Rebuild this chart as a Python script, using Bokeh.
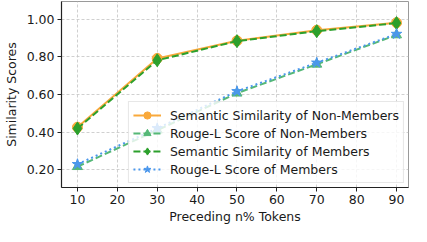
from bokeh.plotting import figure
from bokeh.models import Range1d, FixedTicker, NumeralTickFormatter, Legend, LegendItem
from bokeh.embed import file_html
from bokeh.resources import INLINE

tokens = [10, 30, 50, 70, 90]
sem_non = [0.426, 0.792, 0.886, 0.942, 0.982]
rouge_non = [0.216, 0.41, 0.607, 0.761, 0.917]
sem_mem = [0.419, 0.782, 0.884, 0.937, 0.980]
rouge_mem = [0.229, 0.42, 0.617, 0.769, 0.922]
series_names = [
    "Semantic Similarity of Non-Members",
    "Rouge-L Score of Non-Members",
    "Semantic Similarity of Members",
    "Rouge-L Score of Members",
]
x_ticks = [10, 20, 30, 40, 50, 60, 70, 80, 90]
y_ticks = [0.2, 0.4, 0.6, 0.8, 1.0]
x_label = "Preceding n% Tokens"
y_label = "Similarity Scores"

FONT = "DejaVu Sans"
FS = "12.5px"

p = figure(width=411, height=226, output_backend="svg", toolbar_location=None,
           x_range=Range1d(6, 93), y_range=Range1d(0.105, 1.095),
           min_border_left=54, min_border_right=3, min_border_top=1, min_border_bottom=38)
p.background_fill_color = "white"
p.border_fill_color = "white"
p.outline_line_color = "#9a9a9a"
p.outline_line_width = 1

for ax in (p.xaxis[0], p.yaxis[0]):
    ax.axis_line_color = "#222222"
    ax.axis_line_width = 1.2
    ax.major_tick_line_color = "#222222"
    ax.major_tick_out = 4
    ax.major_tick_in = 0
    ax.minor_tick_out = 0
    ax.minor_tick_in = 0
    ax.major_label_text_font = FONT
    ax.major_label_text_font_size = FS
    ax.major_label_text_color = "#1a1a1a"
    ax.major_label_standoff = 3
    ax.axis_label_text_font = FONT
    ax.axis_label_text_font_size = FS
    ax.axis_label_text_font_style = "normal"
    ax.axis_label_text_color = "#1a1a1a"

p.xaxis.ticker = FixedTicker(ticks=x_ticks)
p.yaxis.ticker = FixedTicker(ticks=y_ticks)
p.yaxis.formatter = NumeralTickFormatter(format="0.00")
p.yaxis.axis_label = y_label
p.yaxis.axis_label_standoff = 5
p.xaxis.axis_label = x_label
p.xaxis.axis_label_standoff = 2

p.grid.grid_line_color = "#c4c4c4"
p.grid.grid_line_dash = "3 2"
p.grid.grid_line_width = 0.8
p.xgrid.ticker = FixedTicker(ticks=x_ticks)
p.ygrid.ticker = FixedTicker(ticks=y_ticks)

c_orange = "#f9a93b"
c_lgreen = "#55b877"
c_dgreen = "#2ca02c"
c_blue = "#4b97ec"

l1 = p.line(tokens, sem_non, line_color=c_orange, line_width=2)
m1 = p.scatter(tokens, sem_non, marker="circle", size=10, fill_color=c_orange, line_color=c_orange)
l2 = p.line(tokens, rouge_non, line_color=c_lgreen, line_width=2, line_dash="7 3")
m2 = p.scatter(tokens, rouge_non, marker="triangle", size=10, fill_color=c_lgreen, line_color=c_lgreen)
l3 = p.line(tokens, sem_mem, line_color=c_dgreen, line_width=2, line_dash="7 3")
m3 = p.scatter(tokens, sem_mem, marker="diamond", size=13, fill_color=c_dgreen, line_color=c_dgreen)
l4 = p.line(tokens, rouge_mem, line_color=c_blue, line_width=2, line_dash="2 3")
m4 = p.scatter(tokens, rouge_mem, marker="star", size=11, fill_color=c_blue, line_color=c_blue)

legend = Legend(items=[
    LegendItem(label=series_names[0], renderers=[l1, m1]),
    LegendItem(label=series_names[1], renderers=[l2, m2]),
    LegendItem(label=series_names[2], renderers=[l3, m3]),
    LegendItem(label=series_names[3], renderers=[l4, m4]),
], location="bottom_right")
legend.label_text_font = FONT
legend.label_text_font_size = FS
legend.label_text_color = "#1a1a1a"
legend.glyph_width = 28
legend.glyph_height = 18
legend.label_height = 18
legend.label_standoff = 9
legend.spacing = 0
legend.padding = 4
legend.margin = 4
legend.border_line_color = "#d0d0d0"
legend.border_line_width = 1
legend.background_fill_color = "white"
legend.background_fill_alpha = 0.8
p.add_layout(legend)

open("out.html", "w").write(file_html(p, INLINE))
